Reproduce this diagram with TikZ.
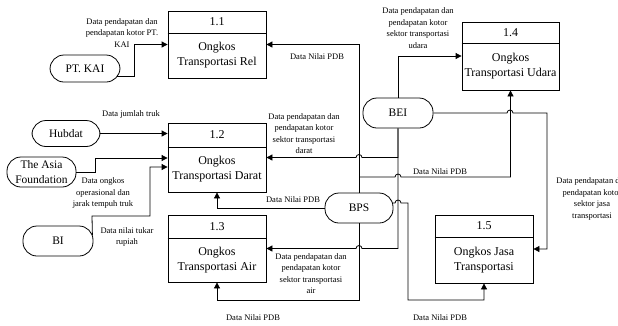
\documentclass[tikz,border=0pt]{standalone}
\usepackage{fontspec}
\setmainfont{Liberation Serif}
\usetikzlibrary{arrows.meta,calc}
\begin{document}
\begin{tikzpicture}[x=1pt,y=-1pt,
  proc/.style={draw, rectangle, line width=0.8pt, minimum width=98pt, inner sep=0},
  term/.style={draw, rectangle, rounded corners=14pt, minimum width=70pt, minimum height=29pt, inner sep=0, line width=0.8pt, font=\fontsize{11.5}{15}\selectfont, align=center},
  hdr/.style={inner sep=0, font=\fontsize{12}{15}\selectfont},
  body/.style={inner sep=0, align=center, font=\fontsize{12}{15}\selectfont},
  lbl/.style={inner sep=0, align=center, font=\fontsize{8.5}{11.5}\selectfont},
  flow/.style={line width=0.8pt, -{Triangle[length=6pt,width=6pt]}},
  divl/.style={line width=0.8pt}
]
\useasboundingbox (0,0) rectangle (618,325);

% process boxes
\node[proc, minimum height=67pt] (p11) at (217,44.5) {};
\draw[divl] (p11.west |- 0,33) -- (p11.east |- 0,33);
\node[hdr] (p11h) at (217,22) {1.1};
\node[body] (p11b) at (217,55.5) {Ongkos\\Transportasi Rel};

\node[proc, minimum height=69pt] (p12) at (217,157.5) {};
\draw[divl] (p12.west |- 0,147) -- (p12.east |- 0,147);
\node[hdr] (p12h) at (217,135) {1.2};
\node[body] (p12b) at (217,169.5) {Ongkos\\Transportasi Darat};

\node[proc, minimum height=67pt] (p13) at (217,248.5) {};
\draw[divl] (p13.west |- 0,238) -- (p13.east |- 0,238);
\node[hdr] (p13h) at (217,226.5) {1.3};
\node[body] (p13b) at (217,260) {Ongkos\\Transportasi Air};

\node[proc, minimum width=97pt, minimum height=68pt] (p14) at (510.5,56) {};
\draw[divl] (p14.west |- 0,43) -- (p14.east |- 0,43);
\node[hdr] (p14h) at (510.5,32.5) {1.4};
\node[body] (p14b) at (510.5,66.5) {Ongkos\\Transportasi Udara};

\node[proc, minimum height=68pt] (p15) at (484,249) {};
\draw[divl] (p15.west |- 0,237) -- (p15.east |- 0,237);
\node[hdr] (p15h) at (484,226) {1.5};
\node[body] (p15b) at (484,260) {Ongkos Jasa\\Transportasi};

% terminators
\node[term, minimum height=27pt] (kai) at (85,68.5) {PT. KAI};
\node[term, minimum width=68pt, minimum height=26pt] (hub) at (66,133.5) {Hubdat};
\node[term, minimum width=69pt, minimum height=30pt] (asia) at (41.5,172) {The Asia\\Foundation};
\node[term, minimum height=30pt] (bi) at (58,241) {BI};
\node[term, minimum height=30pt] (bei) at (398,113) {BEI};
\node[term, minimum width=68pt, minimum height=30pt] (bps) at (359,208) {BPS};

% connectors
\draw[flow] ($(kai.east)+(-3,8)$) -| (134,44.5) -- (p11.west);
\draw[flow] (hub.east) -- (hub.east -| p12.west);
\draw[flow] (asia.east) -| (95,158) -- (p12.west |- 0,158);
\draw[flow] ($(bi.east)+(-1,-6)$) -- (92,216) -| (150,167) -- (p12.west |- 0,167);

\coordinate (j1) at (359,177);
\draw[flow] (bps.north) |- (p11.east);
\draw[flow] (j1) -- (395,177) arc[start angle=180,end angle=360,radius=3] -- (p14.south |- 0,177) -- (p14.south);
\draw[flow] ($(bps.east)+(-1,-5)$) -- (395,203) arc[start angle=180,end angle=360,radius=3] -- (408,203) -- (408,300) -- (p15.south |- 0,300) -- (p15.south);
\draw[flow] (bps.south) -- (bps.south |- 0,300) -| (p13.south);
\draw[flow] (bps.west) -| (p12.south);

\draw[flow] (bei.south) -- (bei.south |- 0,157.5) -- (362,157.5) arc[start angle=0,end angle=-180,radius=3] -- (p12.east);
\draw[flow] (bei.south) -- (bei.south |- 0,248.5) -- (362,248.5) arc[start angle=0,end angle=-180,radius=3] -- (p13.east);
\draw[flow] (bei.north) |- (p14.west);
\draw[flow] (bei.east) -- (507,113) arc[start angle=180,end angle=360,radius=3] -- (547,113) -- (547,249) -- (p15.east);

% labels
\node[lbl] (l1) at (122,33) {Data pendapatan dan\\pendapatan kotor PT.\\KAI};
\node[lbl] (l2) at (131,114) {Data jumlah truk};
\node[lbl] (l3) at (103,193) {Data ongkos\\operasional dan\\jarak tempuh truk};
\node[lbl] (l4) at (127,237) {Data nilai tukar\\rupiah};
\node[lbl] (l5) at (317,57) {Data Nilai PDB};
\node[lbl] (l6) at (304,133.5) {Data pendapatan dan\\pendapatan kotor\\sektor transportasi\\darat};
\node[lbl] (l7) at (293,200) {Data Nilai PDB};
\node[lbl] (l8) at (311,273.5) {Data pendapatan dan\\pendapatan kotor\\sektor transportasi\\air};
\node[lbl] (l9) at (253,318) {Data Nilai PDB};
\node[lbl] (l10) at (440,172) {Data Nilai PDB};
\node[lbl] (l11) at (440,318) {Data Nilai PDB};
\node[lbl] (l12) at (418,28) {Data pendapatan dan\\pendapatan kotor\\sektor transportasi\\udara};
\node[lbl] (l13) at (592,199) {Data pendapatan dan\\pendapatan kotor\\sektor jasa\\transportasi};
\end{tikzpicture}
\end{document}
